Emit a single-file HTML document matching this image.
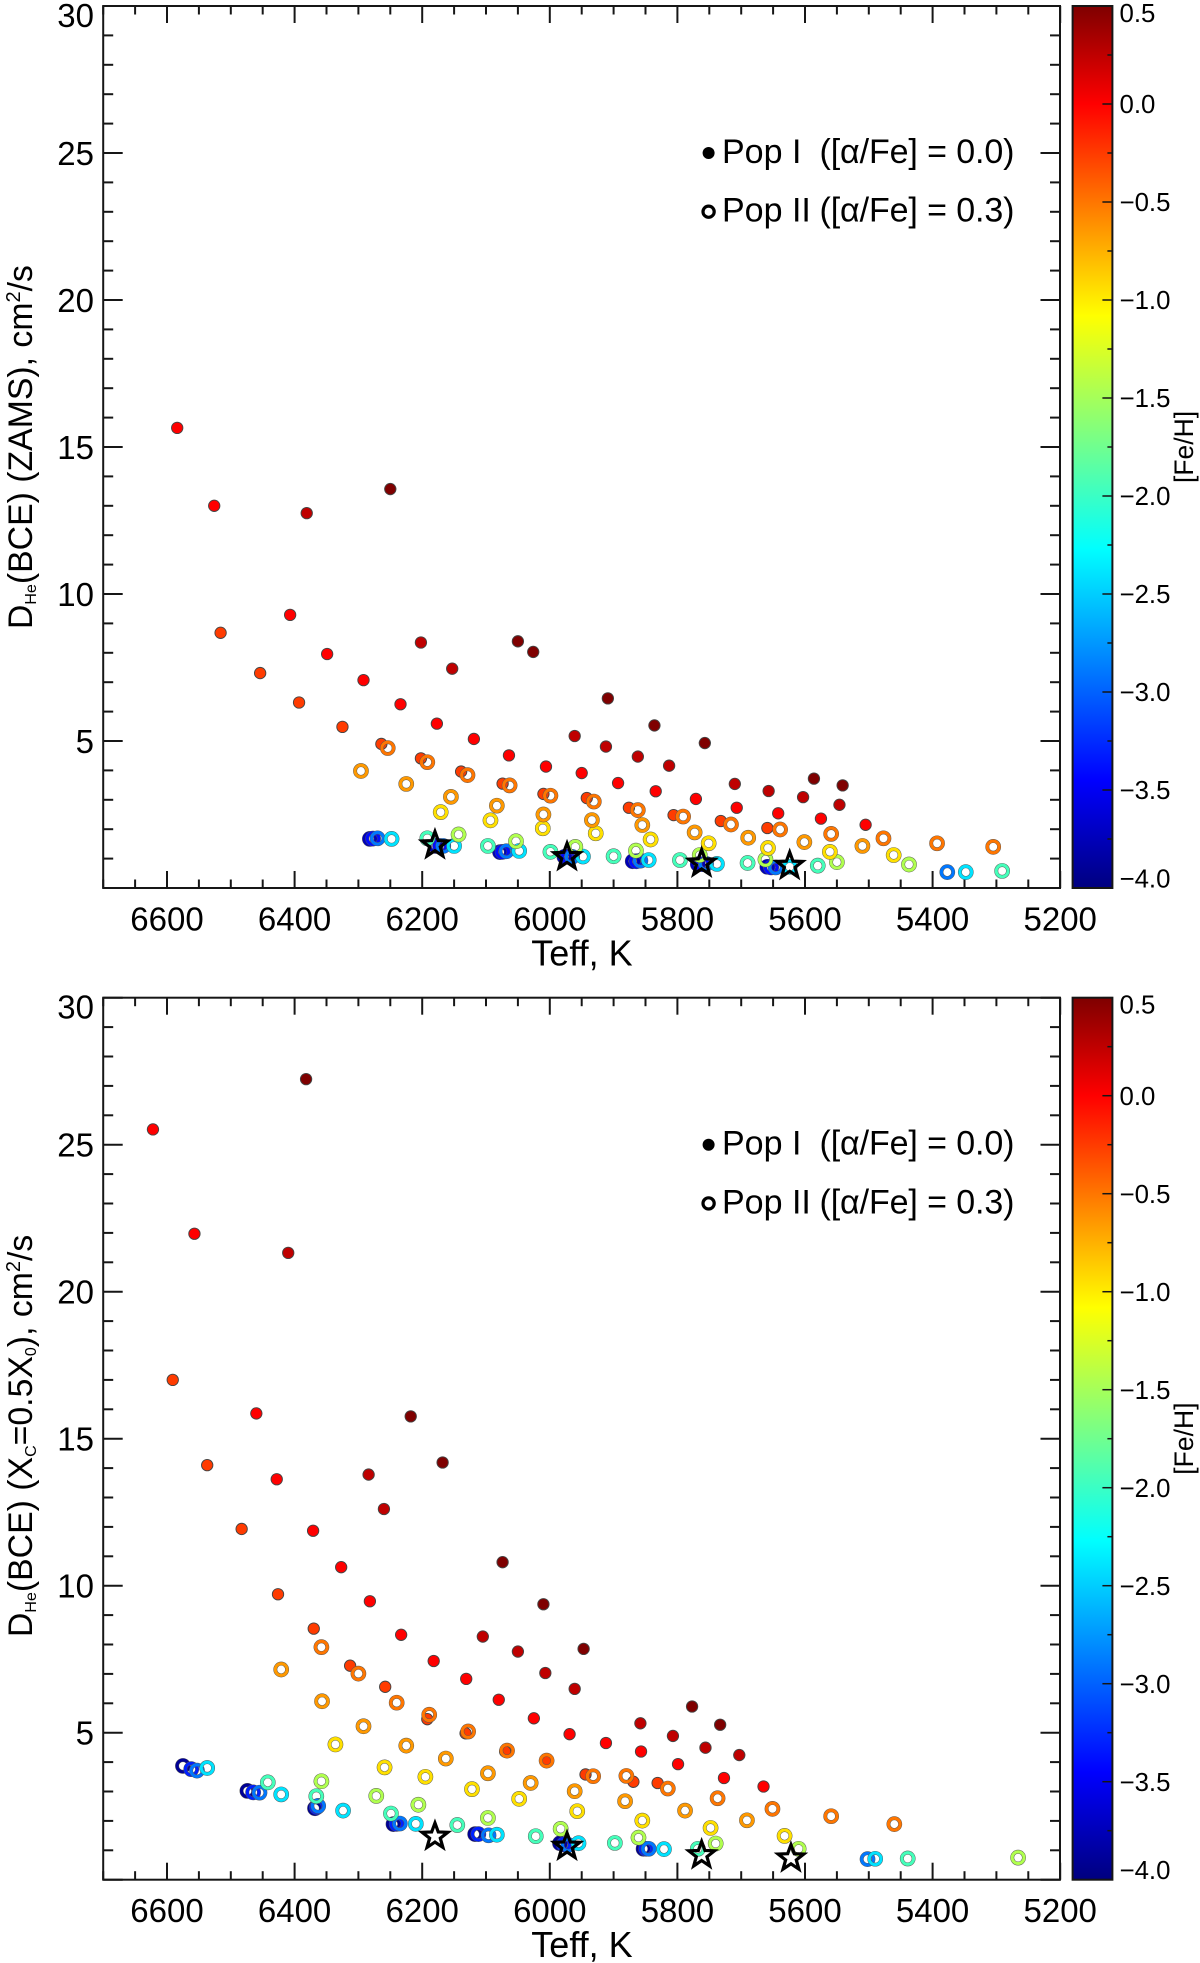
<!DOCTYPE html>
<html>
<head>
<meta charset="utf-8">
<title>Helium diffusion coefficient vs effective temperature</title>
<style>
html,body{margin:0;padding:0;background:#fff;}
svg{display:block;filter:blur(0.3px);}
text{font-family:"Liberation Sans",sans-serif;fill:#000;white-space:pre;}
</style>
</head>
<body>
<svg id="figure" xmlns="http://www.w3.org/2000/svg" width="1200" height="1963" viewBox="0 0 1200 1963">
<defs>
<linearGradient id="jetGradient" x1="0" y1="1" x2="0" y2="0"></linearGradient>
</defs>
<rect x="0" y="0" width="1200" height="1963" fill="#fff"/>
</svg>
<script>
// ---- shared axis data ----
const xMajorTicks = [6600, 6400, 6200, 6000, 5800, 5600, 5400, 5200];
const yMajorTicks = [30, 25, 20, 15, 10, 5];
const colorbarTicks = [0.5, 0.0, -0.5, -1.0, -1.5, -2.0, -2.5, -3.0, -3.5, -4.0];
const colormapValues = [-4.0, -3.45, -2.27, -1.08, 0.0, 0.5];
const colormapColors = [[0,0,127],[0,0,255],[0,255,255],[255,255,0],[255,0,0],[127,0,0]];

// ---- upper panel: D(He) at ZAMS ----
const zamsPopIFeH = [-0.25, 0, 0.25, 0.5];
const zamsPopITeff = [
 [6516,6454,6393,6325,6264,6202,6139,6074,6010,5942,5876,5806,5732,5659],
 [6584,6526,6407,6349,6292,6234,6177,6119,6064,6006,5950,5893,5834,5771,5707,5642,5575,5505],
 [6381,6202,6153,5961,5912,5862,5813,5710,5657,5603,5546],
 [6250,6050,6026,5909,5836,5757,5586,5541]];
const zamsPopID = [
 [8.68,7.31,6.31,5.48,4.9,4.41,3.96,3.55,3.2,3.06,2.73,2.48,2.28,2.04],
 [15.65,13.0,9.29,7.96,7.07,6.25,5.59,5.07,4.51,4.13,3.91,3.57,3.29,3.03,2.73,2.54,2.36,2.15],
 [12.75,8.35,7.46,5.17,4.81,4.47,4.16,3.54,3.3,3.09,2.83],
 [13.57,8.39,8.03,6.45,5.53,4.93,3.72,3.49]];
const zamsPopIIFeH = [-3.75, -3.4, -2.9, -2.4, -1.95, -1.45, -0.95, -0.65, -0.5];
const zamsPopIITeff = [
 [6282,6179,6078,5977,5870,5768,5659],
 [6277,6172,6074,5971,5864,5761,5653],
 [6270,6167,6068,5965,5858,5755,5646,5377],
 [6248,6150,6048,5948,5845,5738,5624,5348],
 [6192,6097,5999,5900,5796,5690,5580,5291],
 [6143,6053,5960,5865,5765,5662,5550,5437],
 [6171,6093,6011,5928,5842,5751,5658,5561,5461],
 [6296,6225,6155,6083,6010,5934,5855,5773,5689,5601,5510],
 [6254,6192,6129,6063,5999,5931,5862,5791,5716,5639,5559,5477,5393,5305]];
const zamsPopIID = [
 [1.67,1.43,1.22,1.06,0.91,0.81,0.72],
 [1.68,1.43,1.23,1.06,0.91,0.81,0.7],
 [1.69,1.43,1.25,1.06,0.93,0.82,0.7,0.54],
 [1.67,1.43,1.26,1.07,0.95,0.82,0.72,0.54],
 [1.69,1.43,1.23,1.08,0.95,0.85,0.76,0.58],
 [1.82,1.59,1.4,1.27,1.12,0.97,0.88,0.8],
 [2.58,2.3,2.03,1.86,1.65,1.52,1.36,1.23,1.12],
 [3.98,3.54,3.1,2.8,2.5,2.31,2.14,1.89,1.71,1.56,1.43],
 [4.76,4.28,3.84,3.49,3.14,2.94,2.65,2.43,2.16,1.99,1.84,1.69,1.52,1.4]];
const zamsStarTeff = [6180, 5973, 5762, 5624];
const zamsStarD = [1.46, 1.06, 0.84, 0.76];

// ---- lower panel: D(He) at Xc = 0.5 X0 ----
const midPopIFeH = [-0.25, 0, 0.25, 0.5];
const midPopITeff = [
 [6591,6537,6483,6426,6370,6313,6258,6192,6132,6070,6005,5944,5869,5831],
 [6622,6557,6460,6428,6371,6327,6282,6233,6182,6131,6080,6025,5969,5912,5857,5799,5727,5665],
 [6410,6284,6260,6105,6050,6007,5961,5858,5807,5756,5703],
 [6382,6218,6168,6074,6010,5947,5777,5733]];
const midPopID = [
 [17.0,14.1,11.93,9.71,8.54,7.28,6.56,5.46,4.98,4.36,4.02,3.58,3.33,3.29],
 [25.52,21.97,15.86,13.62,11.87,10.63,9.47,8.33,7.44,6.83,6.12,5.49,4.95,4.65,4.36,3.93,3.46,3.17],
 [21.32,13.78,12.61,8.27,7.76,7.03,6.49,5.32,4.89,4.49,4.24],
 [27.23,15.76,14.19,10.8,9.37,7.85,5.89,5.27]];
const midPopIIFeH = [-3.9, -3.3, -2.9, -2.4, -1.95, -1.45, -0.95, -0.65, -0.5];
const midPopIITeff = [
 [6575,6474,6368,6245,6117,5984,5853],
 [6562,6465,6365,6240,6112,5978,5849],
 [6553,6455,6363,6235,6096,5971,5845,5502],
 [6537,6421,6324,6210,6083,5955,5821,5490],
 [6442,6366,6249,6145,6022,5898,5768,5439],
 [6358,6272,6206,6097,5983,5861,5740,5610,5266],
 [6336,6259,6195,6122,6048,5957,5855,5748,5632],
 [6421,6357,6292,6225,6163,6097,6030,5961,5882,5788,5691],
 [6358,6300,6240,6189,6128,6067,6005,5932,5880,5815,5737,5651,5559,5460]];
const midPopIID = [
 [3.87,3.02,2.43,1.89,1.55,1.24,1.05],
 [3.76,2.97,2.47,1.9,1.55,1.2,1.05],
 [3.71,2.96,2.51,1.91,1.51,1.18,1.05,0.7],
 [3.8,2.9,2.35,1.9,1.53,1.24,1.04,0.71],
 [3.31,2.84,2.25,1.86,1.48,1.25,1.05,0.72],
 [3.35,2.85,2.55,2.1,1.73,1.43,1.23,1.05,0.75],
 [4.6,3.82,3.5,3.08,2.75,2.33,2.01,1.76,1.49],
 [7.15,6.07,5.22,4.56,4.12,3.62,3.29,3.01,2.67,2.35,2.02],
 [7.91,7.01,6.02,5.61,5.04,4.39,4.05,3.52,3.53,3.1,2.77,2.41,2.16,1.89]];
const midStarTeff = [6180, 5973, 5762, 5622];
const midStarD = [1.47, 1.13, 0.84, 0.73];

// ---- helpers ----
const NS = 'http://www.w3.org/2000/svg';
const svg = document.getElementById('figure');
const AX_LEFT = 103.2, AX_RIGHT = 1060, PLOT_H = 882;
const xPerK = 127.6 / 200, yPerUnit = PLOT_H / 30, cbPerUnit = PLOT_H / 4.5;
const INK = '#161616';

function xScale(t) { return 167 + (6600 - t) * xPerK; }
function yScale(top, d) { return top + (30 - d) * yPerUnit; }
function cbScale(top, v) { return top + (0.5 - v) * cbPerUnit; }
function feToColor(v) {
  let i = 0;
  while (i < colormapValues.length - 2 && v > colormapValues[i + 1]) i++;
  let f = (v - colormapValues[i]) / (colormapValues[i + 1] - colormapValues[i]);
  f = Math.max(0, Math.min(1, f));
  const a = colormapColors[i], b = colormapColors[i + 1];
  return 'rgb(' + a.map((c, k) => Math.round(c + (b[k] - c) * f)).join(',') + ')';
}
function mk(tag, parent) {
  const el = document.createElementNS(NS, tag);
  (parent || svg).appendChild(el);
  return el;
}
function line(parent, x1, y1, x2, y2, w) {
  const el = mk('line', parent);
  el.setAttribute('x1', x1); el.setAttribute('y1', y1);
  el.setAttribute('x2', x2); el.setAttribute('y2', y2);
  el.setAttribute('stroke', INK); el.setAttribute('stroke-width', w);
  return el;
}
function label(parent, x, y, size, anchor, str) {
  const el = mk('text', parent);
  el.setAttribute('x', x); el.setAttribute('y', y);
  el.setAttribute('font-size', size);
  el.setAttribute('text-anchor', anchor);
  el.textContent = str;
  return el;
}
function starPoints(cx, cy, R, r) {
  const pts = [];
  for (let i = 0; i < 10; i++) {
    const a = -Math.PI / 2 + i * Math.PI / 5, q = i % 2 ? r : R;
    pts.push((cx + q * Math.cos(a)).toFixed(2) + ',' + (cy + q * Math.sin(a)).toFixed(2));
  }
  return pts.join(' ');
}

// gradient stops from the colormap arrays
const grad = document.getElementById('jetGradient');
colormapValues.forEach((v, i) => {
  const s = mk('stop', grad);
  s.setAttribute('offset', (v + 4) / 4.5);
  s.setAttribute('stop-color', 'rgb(' + colormapColors[i].join(',') + ')');
});

function drawAxes(g, top) {
  const bottom = top + PLOT_H;
  const frame = mk('rect', g);
  
  
  frame.setAttribute('x', AX_LEFT); frame.setAttribute('y', top);
  frame.setAttribute('width', AX_RIGHT - AX_LEFT); frame.setAttribute('height', PLOT_H);
  frame.setAttribute('fill', 'none'); frame.setAttribute('stroke', INK); frame.setAttribute('stroke-width', 2);

  for (let t = 6700; t >= 5200; t -= 50) {
    const major = t % 200 === 0, len = major ? 17 : 8.5, x = xScale(t);
    const a = line(g, x, bottom, x, bottom - len, 2);
    
    
    const b = line(g, x, top, x, top + len, 2);
    
    
  }
  for (let d = 0; d <= 30; d += 1) {
    const major = d % 5 === 0, len = major ? 19.5 : 10, y = yScale(top, d);
    const a = line(g, AX_LEFT, y, AX_LEFT + len, y, 2);
    
    
    const b = line(g, AX_RIGHT, y, AX_RIGHT - len, y, 2);
    
    
  }
  xMajorTicks.forEach(t => {
    const el = label(g, xScale(t), bottom + 42.3, 33, 'middle', String(t));
    
    
  });
  yMajorTicks.forEach(d => {
    const base = d === 30 ? top + 21 : yScale(top, d) + 12;
    const el = label(g, 94, base, 33, 'end', String(d));
    
    
  });
  const xt = label(g, 582, bottom + 77.5, 36, 'middle', 'Teff, K');
  
  
}

function drawYTitle(g, startY, parts) {
  const t = mk('text', g);
  
  
  t.setAttribute('font-size', 33.8);
  t.setAttribute('transform', 'translate(32,' + startY + ') rotate(-90)');
  parts.forEach(p => {
    const s = mk('tspan', t);
    s.textContent = p[0];
    if (p[1]) s.setAttribute('font-size', p[1]);
    if (p[2]) s.setAttribute('dy', p[2]);
  });
}

function drawColorbar(g, top) {
  const L = 1072.6, R = 1112.4;
  const bar = mk('rect', g);
  
  
  bar.setAttribute('x', L); bar.setAttribute('y', top);
  bar.setAttribute('width', R - L); bar.setAttribute('height', PLOT_H);
  bar.setAttribute('fill', 'url(#jetGradient)');
  bar.setAttribute('stroke', INK); bar.setAttribute('stroke-width', 2);
  for (let v = -4; v <= 0.5; v += 0.25) {
    const major = Math.abs(v * 2 - Math.round(v * 2)) < 1e-6, y = cbScale(top, v);
    const tk = line(g, R, y, R - (major ? 10 : 5), y, 1.5);
    
    
  }
  colorbarTicks.forEach(v => {
    let base = cbScale(top, v) + 9.2;
    if (v === 0.5) base = top + 16;
    if (v === -4.0) base = top + PLOT_H - 0.5;
    const str = (v < 0 ? '\u2212' : '') + Math.abs(v).toFixed(1);
    const el = label(g, 1119.5, base, 25.8, 'start', str);
    
    
  });
  const t = mk('text', g);
  
  
  t.setAttribute('font-size', 26.5);
  t.setAttribute('transform', 'translate(1193,' + (top + 477) + ') rotate(-90)');
  t.textContent = '[Fe/H]';
}

function drawLegend(g, top) {
  const d = mk('circle', g);
  
  
  d.setAttribute('cx', 708.6); d.setAttribute('cy', top + 147);
  d.setAttribute('r', 6); d.setAttribute('fill', '#000');
  const r = mk('circle', g);
  
  
  r.setAttribute('cx', 708.6); r.setAttribute('cy', top + 205.7);
  r.setAttribute('r', 5.6); r.setAttribute('fill', 'none');
  r.setAttribute('stroke', '#000'); r.setAttribute('stroke-width', 3.2);
  const a = label(g, 722, top + 157, 34, 'start', 'Pop I');
  
  
  const a2 = label(g, 819.5, top + 157, 34, 'start', '([\u03B1/Fe] = 0.0)');
  
  
  a2.setAttribute('textLength', 195);
  const b = label(g, 722, top + 215.7, 34, 'start', 'Pop II');
  
  
  const b2 = label(g, 819.5, top + 215.7, 34, 'start', '([\u03B1/Fe] = 0.3)');
  
  
  b2.setAttribute('textLength', 195);
}

function drawSeries(g, top, feI, teffI, dI, feII, teffII, dII, starT, starD) {
  feI.forEach((fe, k) => {
    teffI[k].forEach((t, i) => {
      const c = mk('circle', g);
      
      
      c.setAttribute('cx', xScale(t));
      c.setAttribute('cy', yScale(top, dI[k][i]));
      c.setAttribute('r', 5.7);
      c.setAttribute('fill', feToColor(fe));
      c.setAttribute('stroke', '#444');
      c.setAttribute('stroke-width', 0.9);
    });
  });
  feII.forEach((fe, k) => {
    teffII[k].forEach((t, i) => {
      const edge = mk('circle', g);
      
      
      edge.setAttribute('cx', xScale(t));
      edge.setAttribute('cy', yScale(top, dII[k][i]));
      edge.setAttribute('r', 5.9);
      edge.setAttribute('fill', 'none');
      edge.setAttribute('stroke', '#555');
      edge.setAttribute('stroke-width', 3.9);
      const c = mk('circle', g);
      
      
      c.setAttribute('cx', xScale(t));
      c.setAttribute('cy', yScale(top, dII[k][i]));
      c.setAttribute('r', 5.9);
      c.setAttribute('fill', 'none');
      c.setAttribute('stroke', feToColor(fe));
      c.setAttribute('stroke-width', 3);
    });
  });
  starT.forEach((t, i) => {
    const s = mk('polygon', g);
    
    
    s.setAttribute('points', starPoints(xScale(t), yScale(top, starD[i]), 13.5, 5.6));
    s.setAttribute('fill', 'none');
    s.setAttribute('stroke', '#000');
    s.setAttribute('stroke-width', 3.2);
  });
}

// ---- upper panel ----
const topGroup = mk('g');


drawAxes(topGroup, 6);
drawSeries(topGroup, 6, zamsPopIFeH, zamsPopITeff, zamsPopID, zamsPopIIFeH, zamsPopIITeff, zamsPopIID, zamsStarTeff, zamsStarD);
drawLegend(topGroup, 6);
drawColorbar(topGroup, 6);
drawYTitle(topGroup, 629, [['D'], ['He', 16, 4], ['(BCE) (ZAMS), cm', 33.8, -4], ['2', 20, -12], ['/s', 33.8, 12]]);

// ---- lower panel ----
const bottomGroup = mk('g');


drawAxes(bottomGroup, 997.7);
drawSeries(bottomGroup, 997.7, midPopIFeH, midPopITeff, midPopID, midPopIIFeH, midPopIITeff, midPopIID, midStarTeff, midStarD);
drawLegend(bottomGroup, 997.7);
drawColorbar(bottomGroup, 997.7);
drawYTitle(bottomGroup, 1637, [['D'], ['He', 16, 4], ['(BCE) (X', 33.8, -4], ['C', 16, 4], ['=0.5X', 33.8, -4], ['0', 16, 4], ['), cm', 33.8, -4], ['2', 20, -12], ['/s', 33.8, 12]]);
</script>
</body>
</html>
